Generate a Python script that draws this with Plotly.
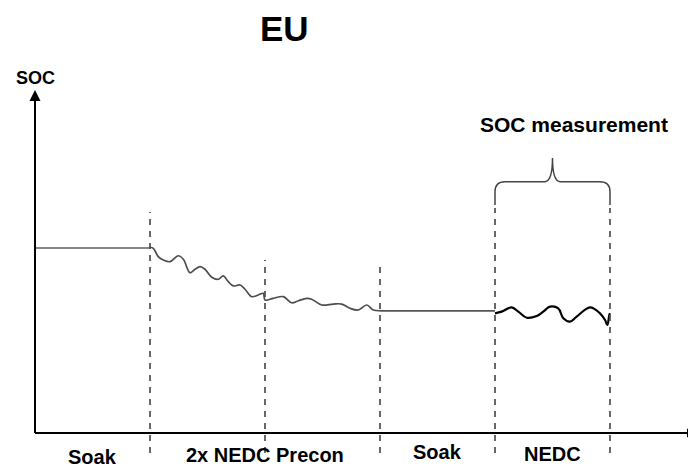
import plotly.graph_objects as go

# ---- data (time in phase units, SOC in arbitrary units) ----
phase_bounds = [1, 2, 3, 4, 5]
phase_labels = ["Soak", "2x NEDC Precon", "Soak", "NEDC"]
label_x = [0.5, 2.0, 3.5, 4.5]
label_y = [-13.0, -11.9, -10.3, -11.4]
dash_top = [119.5, 93.5, 92.4, 121.6, 121.6]

soak1_t = [0.0, 1.0]
soak1_soc = [100.0, 100.0]

precon_t = [1.000, 1.029, 1.072, 1.116, 1.174, 1.246, 1.290, 1.348, 1.391, 1.435,
            1.478, 1.537, 1.594, 1.637, 1.681, 1.724, 1.783, 1.826, 1.884, 1.942,
            1.985, 2.000, 2.072, 2.159, 2.232, 2.290, 2.363, 2.406, 2.493, 2.594,
            2.667, 2.739, 2.811, 2.884, 2.942, 3.000]
precon_soc = [100.4, 99.8, 95.3, 93.5, 92.6, 95.8, 93.9, 86.6, 88.5, 89.9,
              88.5, 84.2, 83.1, 84.9, 81.8, 79.5, 80.0, 77.7, 73.7, 74.6,
              75.5, 71.9, 72.8, 73.7, 70.4, 71.5, 72.8, 72.3, 69.2, 69.7,
              69.7, 67.4, 66.5, 69.2, 66.5, 66.1]

soak2_t = [3.0, 4.0]
soak2_soc = [66.0, 66.0]

nedc_t = [4.000, 4.058, 4.145, 4.203, 4.276, 4.363, 4.420, 4.478, 4.550, 4.594,
          4.652, 4.710, 4.826, 4.913, 4.957, 4.977, 4.994, 5.000]
nedc_soc = [64.7, 65.6, 67.9, 65.6, 62.3, 63.2, 65.6, 68.3, 67.4, 62.0,
            60.2, 62.9, 67.9, 64.7, 61.1, 58.4, 63.8, 64.7]

x_axis_end = 5.748
y_axis_end = 185.4
dash_bottom = -10.8
brace_bottom, brace_level, brace_tip = 123.2, 135.8, 148.6

fig = go.Figure()
fig.add_trace(go.Scatter(x=soak1_t, y=soak1_soc, mode="lines",
                         line=dict(color="#111111", width=1.2), hoverinfo="skip"))
fig.add_trace(go.Scatter(x=precon_t, y=precon_soc, mode="lines", line_shape="spline",
                         line=dict(color="#4d4d4d", width=1.7), hoverinfo="skip"))
fig.add_trace(go.Scatter(x=soak2_t, y=soak2_soc, mode="lines",
                         line=dict(color="#555555", width=1.6), hoverinfo="skip"))
fig.add_trace(go.Scatter(x=nedc_t, y=nedc_soc, mode="lines", line_shape="spline",
                         line=dict(color="#000000", width=2.2), hoverinfo="skip"))

shapes = []
# axes
shapes.append(dict(type="line", xref="x", yref="y", x0=0, y0=0, x1=x_axis_end - 0.05, y1=0,
                   line=dict(color="black", width=2)))
shapes.append(dict(type="line", xref="x", yref="y", x0=0, y0=0, x1=0, y1=y_axis_end - 4,
                   line=dict(color="black", width=2)))
# arrowheads (pixel-sized)
shapes.append(dict(type="path", xref="x", yref="y", xsizemode="pixel", ysizemode="pixel",
                   xanchor=0, yanchor=y_axis_end,
                   path="M 0,0 L -5.5,-11 L 5.5,-11 Z", fillcolor="black", line=dict(width=0)))
shapes.append(dict(type="path", xref="x", yref="y", xsizemode="pixel", ysizemode="pixel",
                   xanchor=x_axis_end, yanchor=0,
                   path="M 0,0 L -9,4.5 L -9,-4.5 Z", fillcolor="black", line=dict(width=0)))
# dashed phase boundaries
for xb, yt in zip(phase_bounds, dash_top):
    shapes.append(dict(type="line", xref="x", yref="y", x0=xb, x1=xb, y0=dash_bottom, y1=yt,
                       line=dict(color="#4d4d4d", width=1.7, dash="6px,6px")))
# brace over NEDC
bl, br = phase_bounds[3], phase_bounds[4]
bm = (bl + br) / 2
path = (f"M {bl},{brace_bottom} L {bl},{brace_level-5.4} "
        f"Q {bl},{brace_level} {bl+0.087},{brace_level} "
        f"L {bm-0.065},{brace_level} Q {bm},{brace_level+0.5} {bm},{brace_tip} "
        f"Q {bm},{brace_level+0.5} {bm+0.065},{brace_level} "
        f"L {br-0.087},{brace_level} Q {br},{brace_level} {br},{brace_level-5.4} "
        f"L {br},{brace_bottom}")
shapes.append(dict(type="path", xref="x", yref="y", path=path,
                   line=dict(color="#444444", width=1.5)))

FONT = "Liberation Sans, Arial, sans-serif"
annotations = []
for lx, ly, txt in zip(label_x, label_y, phase_labels):
    annotations.append(dict(x=lx, y=ly, xref="x", yref="y", text=txt, showarrow=False,
                            xanchor="center", yanchor="middle",
                            font=dict(family=FONT, size=20, color="black", weight="bold")))
annotations.append(dict(x=(284 - 8) / 696, y=1.0, xref="paper", yref="paper",
                        text="EU", showarrow=False, xanchor="center", yanchor="top",
                        borderpad=0,
                        font=dict(family=FONT, size=35, color="black", weight="bold")))
annotations.append(dict(x=0, y=191.9, xref="x", yref="y", text="SOC",
                        showarrow=False, xanchor="center", yanchor="middle",
                        font=dict(family=FONT, size=18, color="black", weight="bold")))
annotations.append(dict(x=4.69, y=167.0, xref="x", yref="y", text="SOC measurement",
                        showarrow=False, xanchor="center", yanchor="middle",
                        font=dict(family=FONT, size=21, color="black", weight="bold")))

# page has an 8px body margin, so the axis ranges are offset to compensate
fig.update_layout(
    width=696, height=468,
    margin=dict(l=0, r=0, t=0, b=0),
    paper_bgcolor="white", plot_bgcolor="white",
    showlegend=False,
    xaxis=dict(range=[-0.2348, 5.8174], visible=False, fixedrange=True),
    yaxis=dict(range=[-23.24, 229.73], visible=False, fixedrange=True),
    shapes=shapes, annotations=annotations,
)
fig.write_html("out.html", config={"displayModeBar": False})
